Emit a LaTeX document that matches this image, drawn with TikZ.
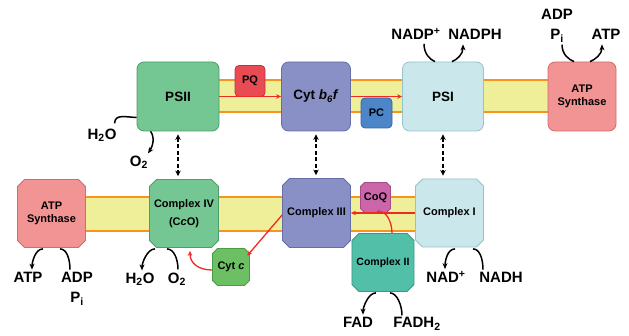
\documentclass[tikz,border=0pt]{standalone}
\usepackage{fontspec}
\setmainfont{Liberation Sans}
\usetikzlibrary{arrows.meta,shapes.misc,calc}
\definecolor{psgreen}{HTML}{74C692}
\definecolor{psgreenD}{HTML}{4E9C6C}
\definecolor{cytpurple}{HTML}{8990C6}
\definecolor{cytpurpleD}{HTML}{676DA6}
\definecolor{psicyan}{HTML}{CAE8EC}
\definecolor{psicyanD}{HTML}{98C2C8}
\definecolor{atppink}{HTML}{F29394}
\definecolor{atppinkD}{HTML}{CF6C6E}
\definecolor{pqred}{HTML}{E94B55}
\definecolor{pqredD}{HTML}{BE3540}
\definecolor{pcblue}{HTML}{4C85C8}
\definecolor{pcblueD}{HTML}{3566A0}
\definecolor{coqmag}{HTML}{CC66AA}
\definecolor{coqmagD}{HTML}{A54C88}
\definecolor{ctwoteal}{HTML}{52C0A9}
\definecolor{ctwotealD}{HTML}{389A86}
\definecolor{cytcgreen}{HTML}{6CBF62}
\definecolor{cytcgreenD}{HTML}{4C9B45}
\definecolor{bandyellow}{HTML}{EFEF9A}
\definecolor{bandorange}{HTML}{F7941D}
\definecolor{arrowred}{HTML}{EE2A24}
\begin{document}
\begin{tikzpicture}[x=1pt,y=-1pt,
  lbl/.style={font=\fontsize{15}{17}\selectfont\bfseries, inner sep=0pt},
  base/.style={inner sep=1pt, align=center, line width=0.8pt, font=\fontsize{11}{13}\selectfont\bfseries},
  bigtxt/.style={font=\fontsize{13.5}{15}\selectfont\bfseries},
  rbox/.style={base, rectangle, rounded corners=7pt},
  cbox/.style={base, chamfered rectangle, chamfered rectangle xsep=3.5pt, chamfered rectangle ysep=3.5pt},
  redarr/.style={draw=arrowred, line width=1.3pt, -{Stealth[length=5pt,width=4.5pt]}},
  blkarr/.style={line width=1.5pt, -{Stealth[length=6pt,width=5pt]}},
  blkline/.style={line width=1.5pt},
  dasharr/.style={line width=1.8pt, dash pattern=on 4pt off 2.5pt, {Stealth[length=5.5pt,width=5.5pt]}-{Stealth[length=5.5pt,width=5.5pt]}, shorten <=3pt, shorten >=3pt},
  band/.style={fill=bandyellow},
  bandline/.style={draw=bandorange, line width=2pt},
]
\useasboundingbox (0,0) rectangle (629,336);
% membranes
\fill[band] (178,80.5) rectangle (582,112.5);
\draw[bandline] (178,80.5) -- (582,80.5);
\draw[bandline] (178,112.5) -- (582,112.5);
\fill[band] (51,197) rectangle (450,231);
\draw[bandline] (51,197) -- (450,197);
\draw[bandline] (51,231) -- (450,231);

% top row
\node[rbox, bigtxt, fill=psgreen, draw=psgreenD, minimum width=82pt, minimum height=69pt] (psii) at (178,96.5) {PSII};
\node[rbox, bigtxt, fill=cytpurple, draw=cytpurpleD, minimum width=69pt, minimum height=69pt] (cytb) at (316,96.5) {Cyt \textit{b}\textsubscript{\textit{6}}\textit{f}};
\node[rbox, bigtxt, fill=psicyan, draw=psicyanD, minimum width=81pt, minimum height=69pt] (psi) at (443,96.5) {PSI};
\node[rbox, fill=atppink, draw=atppinkD, minimum width=68pt, minimum height=69pt] (atpT) at (582,96.5) {ATP\\Synthase};
\node[rbox, rounded corners=4pt, fill=pqred, draw=pqredD, minimum width=30pt, minimum height=31pt] (pq) at (250,81) {PQ};
\node[rbox, rounded corners=4pt, fill=pcblue, draw=pcblueD, minimum width=31pt, minimum height=30pt] (pc) at (376.5,113) {PC};

% bottom row
\node[cbox, fill=atppink, draw=atppinkD, minimum width=68pt, minimum height=68pt] (atpB) at (51.5,213.5) {ATP\\Synthase};
\node[cbox, fill=psgreen, draw=psgreenD, minimum width=69pt, minimum height=68pt] (civ) at (184,213.5) {Complex IV\\[5pt](C\textit{c}O)};
\node[cbox, fill=cytpurple, draw=cytpurpleD, minimum width=68pt, minimum height=69pt] (ciii) at (316.5,213) {Complex III};
\node[cbox, fill=psicyan, draw=psicyanD, minimum width=68pt, minimum height=68pt] (ci) at (449.5,213) {Complex I};
\node[cbox, chamfered rectangle xsep=2pt, chamfered rectangle ysep=2pt, fill=coqmag, draw=coqmagD, minimum width=30pt, minimum height=30pt] (coq) at (375.5,197.5) {CoQ};
\node[cbox, fill=ctwoteal, draw=ctwotealD, minimum width=59pt, minimum height=58pt, font=\fontsize{10.5}{12}\selectfont\bfseries] (cii) at (383,262.5) {Complex II};
\node[cbox, chamfered rectangle xsep=2.5pt, chamfered rectangle ysep=2.5pt, fill=cytcgreen, draw=cytcgreenD, minimum width=37pt, minimum height=37pt] (cytc) at (231,267) {Cyt \textit{c}};

% electron flow
\draw[redarr] (psii.east) -- (cytb.west);
\draw[redarr] (cytb.east) -- (psi.west);
\draw[redarr] (ci.west) -- (ci.west -| ciii.east);
\draw[redarr] ($(cii.north)+(9,0)$) .. controls +(0,-12) and +(10,-3) .. (coq.south);
\draw[redarr] ($(ciii.west)+(0,2)$) -- ($(cytc.north east)+(0,5)$);
\draw[redarr] ($(cytc.west)+(0,3)$) .. controls +(-14,0) and +(0,12) .. ($(civ.south)+(6,3)$);

% dashed links
\draw[dasharr] (psii.south) -- (psii.south |- civ.north);
\draw[dasharr] (cytb.south) -- (cytb.south |- ciii.north);
\draw[dasharr] (psi.south) -- (psi.south |- ci.north);

% labels
\node[lbl] (nadpp) at (416,34) {NADP\textsuperscript{+}};
\node[lbl] (nadph) at (475,34) {NADPH};
\node[lbl] (adpT) at (557,14) {ADP};
\node[lbl] (piT) at (557,36) {P\textsubscript{i}};
\node[lbl] (atpTl) at (606,34) {ATP};
\node[lbl] (h2oT) at (102,135) {H\textsubscript{2}O};
\node[lbl] (o2T) at (139,162) {O\textsubscript{2}};
\node[lbl] (atpBl) at (28,277) {ATP};
\node[lbl] (adpB) at (77,277) {ADP};
\node[lbl] (piB) at (77,299) {P\textsubscript{i}};
\node[lbl] (h2oB) at (140,279) {H\textsubscript{2}O};
\node[lbl] (o2B) at (177,279) {O\textsubscript{2}};
\node[lbl] (nadp) at (446,277) {NAD\textsuperscript{+}};
\node[lbl] (nadh) at (501,277) {NADH};
\node[lbl] (fad) at (358,322) {FAD};
\node[lbl] (fadh) at (417,324) {FADH\textsubscript{2}};

% substrate/product arcs
\draw[blkline] ($(nadpp.south)+(8,4)$) .. controls +(0,10) and +(-5,-2) .. ($(psi.north)+(-8,0)$);
\draw[blkarr] ($(psi.north)+(9,0)$) .. controls +(5,-2) and +(0,10) .. ($(nadph.south)+(-12,5)$);
\draw[blkline] ($(piT.south)+(5,2)$) .. controls +(0,10) and +(-5,-2) .. ($(atpT.north)+(-8,0)$);
\draw[blkarr] ($(atpT.north)+(8,0)$) .. controls +(5,-2) and +(0,10) .. ($(atpTl.south)+(-4,5)$);
\draw[blkline] ($(h2oT.north east)+(-2,-5)$) .. controls +(0,-10) and +(-10,0) .. ($(psii.south west)+(0,-14)$);
\draw[blkarr] ($(psii.south west)+(14,0)$) .. controls +(5,7) and +(4,-6) .. ($(o2T.north)+(9,-2)$);
\draw[blkarr] ($(atpB.south)+(-8.5,1)$) .. controls +(-8,0) and +(0,-7) .. ($(atpBl.north)+(4,-2)$);
\draw[blkline] ($(adpB.north)+(-7,-2)$) .. controls +(0,-10) and +(7,0) .. ($(atpB.south)+(8.5,1)$);
\draw[blkarr] ($(civ.south)+(-29,1)$) .. controls +(-8,0) and +(0,-7) .. ($(h2oB.north)+(2,-2)$);
\draw[blkline] ($(o2B.north)+(1,-3)$) .. controls +(0,-10) and +(7,0) .. ($(civ.south)+(-17,1)$);
\draw[blkarr] ($(ci.south)+(5.5,1.5)$) .. controls +(-8,0) and +(0,-7) .. ($(nadp.north)+(-1,-2)$);
\draw[blkline] ($(nadh.north)+(-18,-2)$) .. controls +(0,-10) and +(7,0) .. ($(ci.south)+(23.5,1.5)$);
\draw[blkarr] ($(cii.south)+(-7,1)$) .. controls +(-8,0) and +(0,-7) .. ($(fad.north)+(5,-2)$);
\draw[blkline] ($(fadh.north)+(-15,-2)$) .. controls +(0,-10) and +(7,0) .. ($(cii.south)+(7,1)$);
\end{tikzpicture}
\end{document}
